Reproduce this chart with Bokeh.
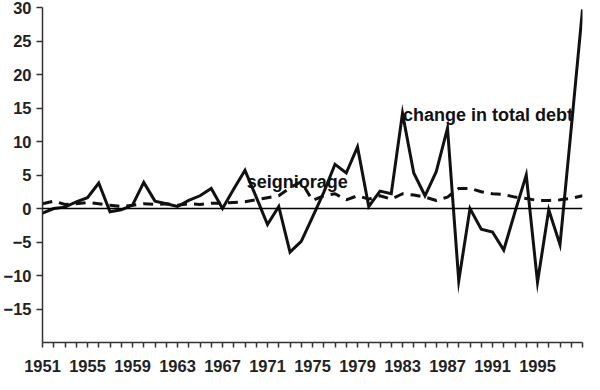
from bokeh.plotting import figure
from bokeh.models import Range1d, FixedTicker, Span, ColumnDataSource
from bokeh.core.properties import value
from bokeh.embed import file_html
from bokeh.resources import INLINE

years = [1951, 1952, 1953, 1954, 1955, 1956, 1957, 1958, 1959, 1960,
         1961, 1962, 1963, 1964, 1965, 1966, 1967, 1968, 1969, 1970,
         1971, 1972, 1973, 1974, 1975, 1976, 1977, 1978, 1979, 1980,
         1981, 1982, 1983, 1984, 1985, 1986, 1987, 1988, 1989, 1990,
         1991, 1992, 1993, 1994, 1995, 1996, 1997, 1998, 1999]

change_in_total_debt = [-0.7, 0.0, 0.2, 1.0, 1.6, 3.8, -0.5, -0.2, 0.5, 3.9,
                        1.1, 0.7, 0.3, 1.2, 1.9, 3.0, 0.0, 2.9, 5.7, 1.7,
                        -2.4, 0.3, -6.5, -4.9, -1.3, 2.4, 6.6, 5.3, 9.2, 0.3,
                        2.6, 2.2, 14.2, 5.3, 1.9, 5.5, 12.0, -10.8, 0.0, -3.1,
                        -3.5, -6.2, -0.5, 5.0, -11.0, -0.2, -5.4, 12.0, 29.7]

seigniorage = [0.7, 1.1, 0.6, 0.7, 0.9, 0.7, 0.5, 0.3, 0.5, 0.7,
               0.6, 0.7, 0.5, 0.7, 0.6, 0.8, 0.8, 0.9, 1.0, 1.3,
               1.6, 1.9, 3.1, 4.0, 1.2, 1.9, 2.2, 1.3, 1.9, 1.4,
               1.9, 1.4, 2.2, 2.0, 1.7, 1.2, 1.7, 3.0, 3.0, 2.5,
               2.2, 2.1, 1.7, 1.5, 1.2, 1.2, 1.3, 1.5, 1.9]

y_ticks = [-15, -10, -5, 0, 5, 10, 15, 20, 25, 30]
x_label_years = [1951, 1955, 1959, 1963, 1967, 1971, 1975, 1979, 1983, 1987, 1991, 1995]

labels_text = ["seigniorage", "change in total debt"]
labels_x = [1969.15, 1983.05]
labels_y = [3.9, 14.0]

FONT = "Liberation Sans"

p = figure(width=584, height=374, output_backend="svg", toolbar_location=None,
           x_range=Range1d(1951, 1999), y_range=Range1d(-20, 30),
           min_border_left=34, min_border_right=2, min_border_top=7,
           min_border_bottom=20)
p.outline_line_color = None
p.xgrid.visible = False
p.ygrid.visible = False
p.background_fill_color = "white"
p.border_fill_color = "white"

p.add_layout(Span(location=0, dimension="width", line_color="black", line_width=1.5))

p.line(years, seigniorage, line_color="#111111", line_width=3, line_dash="10 7")
p.line(years, change_in_total_debt, line_color="#111111", line_width=3,
       line_join="miter")

src = ColumnDataSource(dict(x=labels_x, y=labels_y, t=labels_text))
p.text(x="x", y="y", text="t", source=src, text_font=value(FONT),
       text_font_style="bold", text_font_size="18px", text_color="#111111",
       text_baseline="alphabetic", text_align="left")

xa = p.xaxis[0]
xa.ticker = FixedTicker(ticks=years)
xa.major_label_overrides = {y: (str(y) if y in x_label_years else "") for y in years}
xa.axis_line_color = "#333333"
xa.axis_line_width = 1.5
xa.major_tick_line_color = "#333333"
xa.major_tick_line_width = 1.5
xa.major_tick_in = 0
xa.major_tick_out = 5
xa.minor_tick_line_color = None
xa.major_label_standoff = 12
xa.major_label_text_font = FONT
xa.major_label_text_font_style = "bold"
xa.major_label_text_font_size = "16.5px"
xa.major_label_text_line_height = 0.55
xa.major_label_text_color = "#222222"

ya = p.yaxis[0]
ya.ticker = FixedTicker(ticks=y_ticks)
ya.axis_line_color = "#333333"
ya.axis_line_width = 1.5
ya.major_tick_line_color = "#333333"
ya.major_tick_line_width = 1.5
ya.major_tick_in = 0
ya.major_tick_out = 6
ya.minor_tick_line_color = None
ya.major_label_standoff = 5
ya.major_label_text_font = FONT
ya.major_label_text_font_style = "bold"
ya.major_label_text_font_size = "16.5px"
ya.major_label_text_line_height = 0.7
ya.major_label_text_color = "#222222"

open("out.html", "w").write(file_html(p, INLINE))
